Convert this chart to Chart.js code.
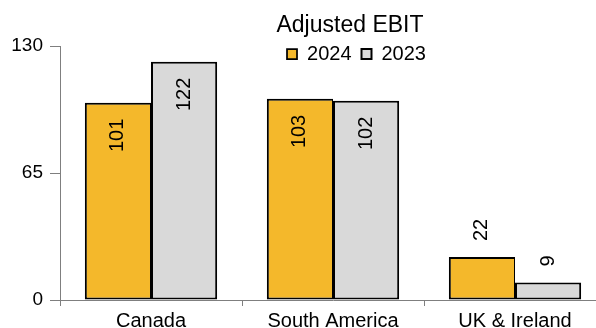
<!DOCTYPE html>
<html>
<head>
<meta charset="utf-8">
<script src="https://cdn.jsdelivr.net/npm/chart.js@4.4.1/dist/chart.umd.min.js"></script>
<style>
  html, body { margin: 0; padding: 0; background: #fff; }
  #wrap { width: 596px; height: 328px; overflow: hidden; }
  #box { width: 606px; height: 345px; }
</style>
</head>
<body>
<div id="wrap"><div id="box"><canvas id="ebitChart"></canvas></div></div>
<script>
/*global Chart*/

// Adjusted EBIT by region
var regions = ["Canada", "South America", "UK & Ireland"];
var ebit2024 = [101, 103, 22];
var ebit2023 = [122, 102, 9];
var yTicks = [0, 65, 130];

Chart.defaults.font.family = '"Liberation Sans", Arial, sans-serif';
Chart.defaults.color = '#000';

// value labels, turned on their side; big bars get them inside
var barLabels = {
    id: 'barLabels',
    afterDatasetsDraw: function(chart) {
        var ctx = chart.ctx;
        ctx.save();
        ctx.font = '20px "Liberation Sans", Arial, sans-serif';
        ctx.fillStyle = '#000';
        ctx.textBaseline = 'middle';
        chart.data.datasets.forEach(function(ds, i) {
            chart.getDatasetMeta(i).data.forEach(function(bar, j) {
                var v = ds.data[j];
                var inside = v > 50;
                ctx.save();
                ctx.translate(bar.x, inside ? bar.y + 16 : bar.y - 16);
                ctx.rotate(-Math.PI / 2);
                ctx.textAlign = inside ? 'right' : 'left';
                ctx.fillText(String(v), 0, 0);
                ctx.restore();
            });
        });
        ctx.restore();
    }
};

// title and legend sit right of the plot centre, legend hangs over the top of the plot
var shiftHeader = {
    id: 'shiftHeader',
    afterLayout: function(chart) {
        var t = chart.titleBlock, l = chart.legend;
        t.left += 47; t.right += 47;
        l.left += 53.5; l.right += 53.5;
        l.top = 34; l.bottom = 74;
    }
};

var barData = {
    labels: regions,
    datasets: [
        {
            label: "2024",
            data: ebit2024,
            backgroundColor: '#F4B82B',
            borderColor: '#000',
            borderWidth: {top: 2, left: 2, bottom: 2, right: 1},
            borderSkipped: false
        },
        {
            label: "2023",
            data: ebit2023,
            backgroundColor: '#D9D9D9',
            borderColor: '#000',
            borderWidth: 2,
            borderSkipped: false
        }
    ]
};

var barOptions = {
    responsive: true,
    maintainAspectRatio: false,
    animation: false,
    layout: { padding: 0 },
    datasets: { bar: { categoryPercentage: 0.727, barPercentage: 1 } },
    plugins: {
        title: {
            display: true,
            text: 'Adjusted EBIT',
            color: '#000',
            font: { size: 23, weight: 'normal' },
            padding: { top: 12, bottom: 5.4 }
        },
        legend: {
            display: true,
            position: 'top',
            align: 'center',
            maxHeight: 1,
            labels: {
                boxWidth: 10,
                boxHeight: 10,
                padding: 10,
                color: '#000',
                font: { size: 20 }
            }
        },
        tooltip: { enabled: false }
    },
    scales: {
        x: {
            afterFit: function(s) { s.height = 45; },
            grid: { offset: true, drawOnChartArea: false, tickLength: 6, color: '#7f7f7f' },
            border: { color: '#7f7f7f' },
            ticks: { padding: 3, color: '#000', font: { size: 20 } }
        },
        y: {
            min: 0,
            max: 130,
            afterFit: function(s) { s.width = 60; },
            afterBuildTicks: function(s) {
                s.ticks = yTicks.map(function(v) { return {value: v}; });
            },
            grid: { drawOnChartArea: false, tickLength: 10, color: '#7f7f7f' },
            border: { color: '#7f7f7f' },
            ticks: { padding: 7, color: '#000', font: { size: 19 } }
        }
    }
};

var ctx = document.getElementById("ebitChart").getContext("2d");
new Chart(ctx, {type: 'bar', data: barData, options: barOptions, plugins: [barLabels, shiftHeader]});
</script>
</body>
</html>
